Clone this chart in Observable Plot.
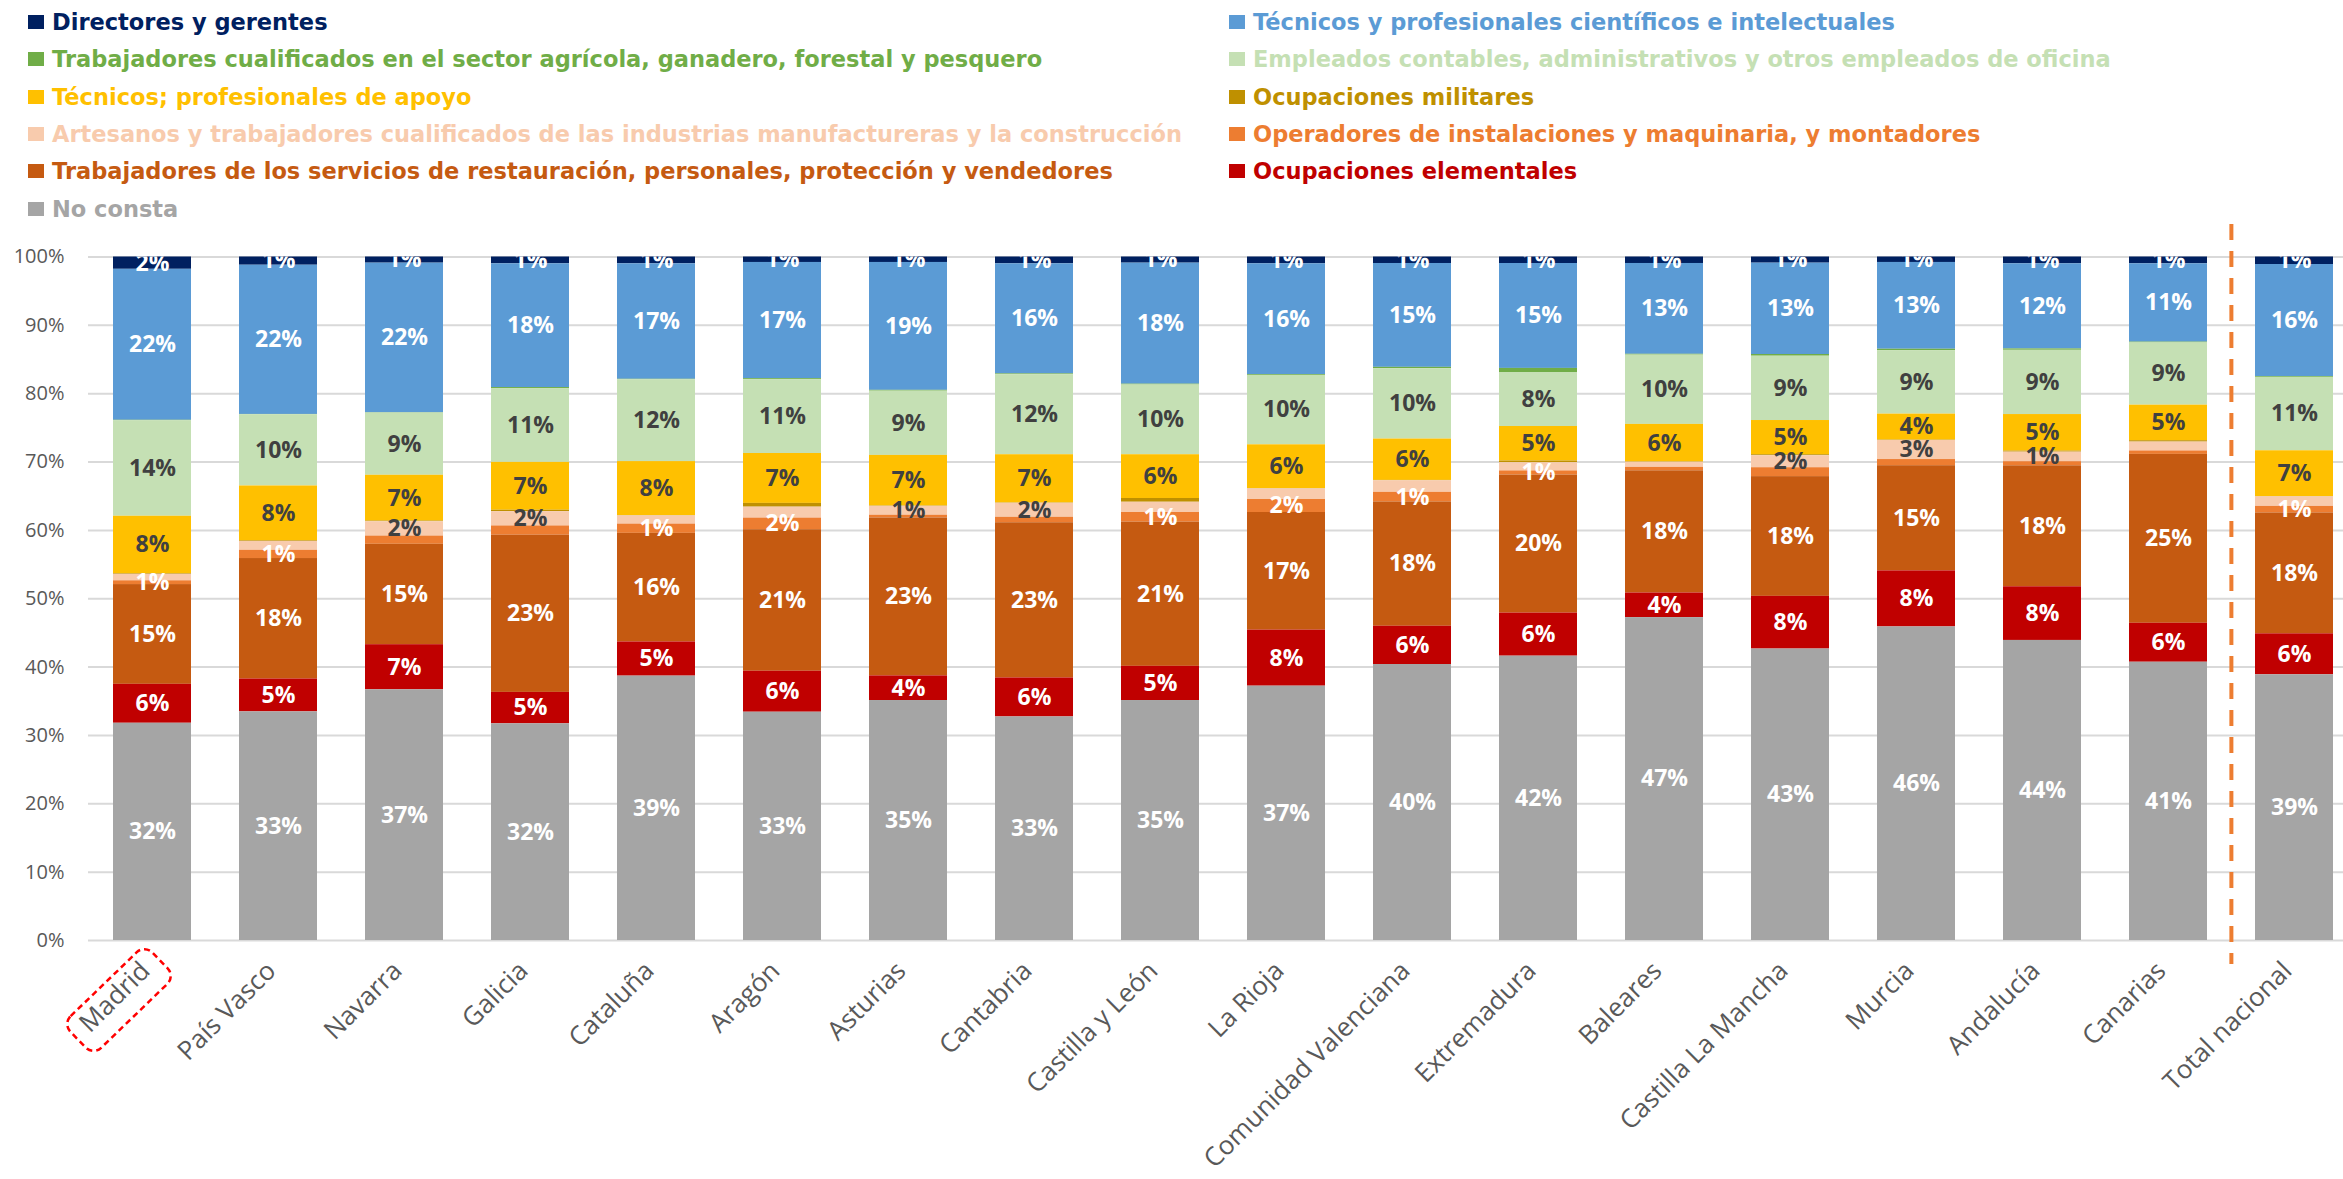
<!DOCTYPE html>
<html>
<head>
<meta charset="utf-8">
<script src="https://cdn.jsdelivr.net/npm/d3@7"></script>
<script src="https://cdn.jsdelivr.net/npm/@observablehq/plot@0.6"></script>
<style>
  html, body { margin: 0; padding: 0; background: #ffffff; }
  body { width: 2343px; height: 1179px; overflow: hidden; }
  #legend { position: relative; height: 222px; font-family: "DejaVu Sans", sans-serif; font-weight: bold; font-size: 22.5px; }
  .item { position: absolute; display: flex; align-items: center; white-space: nowrap; height: 30px; }
  .sw { width: 16px; height: 14px; margin-right: 8px; flex: none; }
</style>
</head>
<body>
<div id="legend"></div>
<div id="chart"></div>
<script>
// ---------- data ----------
const regions = ["Madrid", "País Vasco", "Navarra", "Galicia", "Cataluña", "Aragón", "Asturias", "Cantabria",
  "Castilla y León", "La Rioja", "Comunidad Valenciana", "Extremadura", "Baleares", "Castilla La Mancha",
  "Murcia", "Andalucía", "Canarias", "Total nacional"];

// legend order (top of stack first)
const seriesNames = [
  "Directores y gerentes",
  "Técnicos y profesionales científicos e intelectuales",
  "Trabajadores cualificados en el sector agrícola, ganadero, forestal y pesquero",
  "Empleados contables, administrativos y otros empleados de oficina",
  "Técnicos; profesionales de apoyo",
  "Ocupaciones militares",
  "Artesanos y trabajadores cualificados de las industrias manufactureras y la construcción",
  "Operadores de instalaciones y maquinaria, y montadores",
  "Trabajadores de los servicios de restauración, personales, protección y vendedores",
  "Ocupaciones elementales",
  "No consta"
];
const seriesColors = ["#002060", "#5B9BD5", "#70AD47", "#C5E0B4", "#FFC000", "#BF9000",
  "#F8CBAD", "#ED7D31", "#C55A11", "#C00000", "#A5A5A5"];

// values in % per region (same order as regions)
const directores  = [1.8, 1.2, 0.9, 1.0, 1.0, 0.8, 0.8, 1.0, 0.9, 1.0, 0.95, 0.95, 0.95, 0.9, 0.8, 1.0, 1.0, 1.1];
const cientificos = [22.1, 21.8, 21.9, 18.1, 16.9, 17.0, 18.7, 16.1, 17.7, 16.2, 15.2, 15.35, 13.3, 13.35, 12.7, 12.45, 11.45, 16.4];
const agricola    = [0.05, 0.05, 0.05, 0.15, 0.05, 0.15, 0.12, 0.12, 0.12, 0.12, 0.2, 0.6, 0.12, 0.25, 0.2, 0.2, 0.12, 0.12];
const empleados   = [14.0, 10.4, 9.1, 10.8, 12.0, 10.8, 9.4, 11.7, 10.2, 10.15, 10.3, 7.9, 10.15, 9.4, 9.3, 9.4, 9.1, 10.75];
const apoyo       = [8.4, 8.0, 6.7, 7.0, 7.9, 7.3, 7.4, 7.05, 6.4, 6.4, 6.05, 5.05, 5.5, 5.0, 3.8, 5.35, 5.2, 6.7];
const militares   = [0.1, 0.1, 0.1, 0.2, 0.05, 0.55, 0.05, 0.05, 0.55, 0.05, 0.05, 0.25, 0.05, 0.15, 0.05, 0.15, 0.2, 0.05];
const artesanos   = [0.95, 1.3, 2.1, 2.1, 1.2, 1.6, 1.3, 2.05, 1.5, 1.55, 1.7, 1.2, 0.75, 1.75, 2.8, 1.4, 1.3, 1.4];
const operadores  = [0.55, 1.2, 1.2, 1.35, 1.35, 1.7, 0.4, 0.8, 1.4, 1.9, 1.4, 0.6, 0.5, 1.3, 0.9, 0.6, 0.5, 0.95];
const servicios   = [14.6, 17.6, 14.7, 23.0, 15.9, 20.7, 23.1, 22.7, 21.1, 17.2, 18.2, 20.2, 17.9, 17.5, 15.4, 17.7, 24.7, 17.7];
const elementales = [5.7, 4.8, 6.6, 4.6, 5.0, 6.0, 3.6, 5.7, 5.0, 8.2, 5.6, 6.3, 3.6, 7.7, 8.2, 7.85, 5.7, 6.0];
const noConsta    = [31.8, 33.4, 36.7, 31.7, 38.7, 33.4, 35.1, 32.7, 35.1, 37.2, 40.4, 41.6, 47.3, 42.6, 45.9, 43.9, 40.7, 38.9];

const seriesValues = [directores, cientificos, agricola, empleados, apoyo, militares,
  artesanos, operadores, servicios, elementales, noConsta];

// which small segments carry a label in the original
const operadoresLabelled = ["Madrid", "País Vasco", "Cataluña", "Aragón", "Castilla y León", "La Rioja",
  "Comunidad Valenciana", "Extremadura", "Total nacional"];
const artesanosLabelled = ["Navarra", "Galicia", "Asturias", "Cantabria", "Castilla La Mancha", "Murcia", "Andalucía"];

const yTicks = [0, 0.1, 0.2, 0.3, 0.4, 0.5, 0.6, 0.7, 0.8, 0.9, 1.0];
const highlighted = "Madrid";
const dividerBefore = "Total nacional";

// ---------- table ----------
const data = [];
seriesNames.forEach((s, si) => regions.forEach((r, ri) => data.push({region: r, series: s, value: seriesValues[si][ri]})));
const stackOrder = seriesNames.slice().reverse(); // bottom first

const darkLabelSeries = [seriesNames[3], seriesNames[4], seriesNames[6]];
function labelFor(d) {
  if (d.series === seriesNames[2] || d.series === seriesNames[5]) return null;
  if (d.series === seriesNames[7] && !operadoresLabelled.includes(d.region)) return null;
  if (d.series === seriesNames[6] && !artesanosLabelled.includes(d.region)) return null;
  return Math.round(d.value) + "%";
}

// ---------- legend ----------
const legend = d3.select("#legend");
seriesNames.forEach((s, i) => {
  const col = i % 2, row = Math.floor(i / 2);
  const it = legend.append("div").attr("class", "item")
    .style("left", (col === 0 ? 28 : 1229) + "px")
    .style("top", (7 + row * 37.3) + "px");
  it.append("span").attr("class", "sw").style("background", seriesColors[i]);
  it.append("span").style("color", seriesColors[i]).text(s);
});

// ---------- chart ----------
const xRange = [88, 2358];
const padIn = 0.382, padOut = 0.182;
const step = (xRange[1] - xRange[0]) / (regions.length - padIn + 2 * padOut);

function highlightBox(index, scales) {
  const sx = scales.x;
  const bw = typeof sx.bandwidth === "function" ? sx.bandwidth() : sx.bandwidth;
  const cx = sx(highlighted) + bw / 2 - 33;
  const cy = scales.y(0) + 60;
  const g = d3.create("svg:g");
  g.append("rect")
    .attr("x", -57).attr("y", -22).attr("width", 114).attr("height", 44).attr("rx", 11)
    .attr("transform", `translate(${cx},${cy}) rotate(-44)`)
    .attr("fill", "none").attr("stroke", "#FF0000").attr("stroke-width", 2.5)
    .attr("stroke-dasharray", "6,4");
  return g.node();
}

const stackOpts = {x: "region", y: "value", z: "series", order: stackOrder, offset: "normalize"};

const chart = Plot.plot({
  width: 2343,
  height: 957,
  marginTop: 34.5,
  marginBottom: 239,
  marginLeft: 88,
  marginRight: 0,
  style: {fontFamily: "Open Sans", background: "#ffffff"},
  x: {domain: regions, range: xRange, paddingInner: padIn, paddingOuter: padOut, label: null},
  y: {domain: [0, 1], label: null},
  color: {domain: seriesNames, range: seriesColors},
  marks: [
    Plot.ruleY(yTicks, {stroke: "#D9D9D9", strokeWidth: 2}),
    Plot.axisY({ticks: yTicks, tickFormat: ".0%", tickSize: 0, tickPadding: 24, fontSize: 20, fill: "#595959", label: null}),
    Plot.axisX({tickRotate: -45, tickSize: 0, tickPadding: 26, dx: -7, fontSize: 26, fill: "#595959", label: null}),
    Plot.barY(data, Plot.stackY({...stackOpts, fill: "series"})),
    Plot.text(data, Plot.stackY({...stackOpts,
      text: d => darkLabelSeries.includes(d.series) ? null : labelFor(d),
      fill: "#FFFFFF", fontSize: 23, fontWeight: "bold", fontFamily: "Open Sans", clip: true})),
    Plot.text(data, Plot.stackY({...stackOpts,
      text: d => darkLabelSeries.includes(d.series) ? labelFor(d) : null,
      fill: "#404040", fontSize: 23, fontWeight: "bold", fontFamily: "Open Sans", clip: true})),
    Plot.ruleX([dividerBefore], {x: d => d, y1: 1.0476, y2: -0.035, dx: -step / 2,
      stroke: "#ED7D31", strokeWidth: 4, strokeDasharray: "16,11"}),
    highlightBox
  ]
});
document.getElementById("chart").appendChild(chart);
</script>
</body>
</html>
